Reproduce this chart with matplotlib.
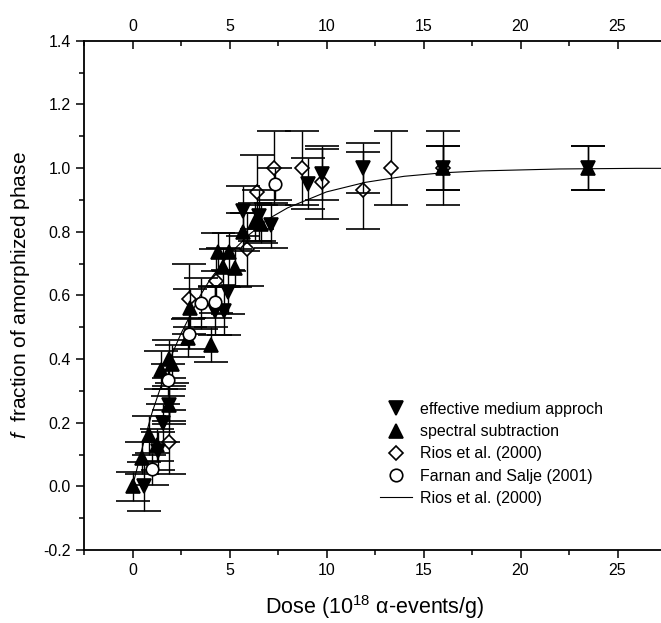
import matplotlib
matplotlib.use("Agg")
import matplotlib.pyplot as plt
from matplotlib.ticker import MultipleLocator, FixedLocator
from matplotlib.lines import Line2D

plt.rcParams['font.family'] = ['Liberation Sans', 'DejaVu Sans']
plt.rcParams['mathtext.fontset'] = 'custom'
plt.rcParams['mathtext.rm'] = 'Liberation Sans'
plt.rcParams['mathtext.it'] = 'Liberation Sans:italic'
plt.rcParams['axes.unicode_minus'] = False

# effective medium approach (filled down triangles)
em_x = [0.6, 1.3, 1.55, 1.9, 4.25, 4.7, 4.9, 5.7, 6.5, 7.15, 9.05, 9.75, 11.9, 16.0, 23.5]
em_y = [0.0, 0.11, 0.2, 0.255, 0.55, 0.55, 0.61, 0.865, 0.85, 0.82, 0.95, 0.98, 1.0, 1.0, 1.0]
em_err = [0.076, 0.06, 0.06, 0.06, 0.075, 0.075, 0.07, 0.077, 0.08, 0.07, 0.08, 0.08, 0.08, 0.07, 0.07]

# spectral subtraction (filled up triangles)
ss_x = [0.0, 0.5, 0.85, 1.25, 1.45, 1.9, 2.05, 1.9, 2.85, 2.95, 4.05, 4.4, 4.65, 4.95, 5.3, 5.7, 6.3, 6.6, 16.0, 23.5]
ss_y = [0.0, 0.09, 0.16, 0.13, 0.365, 0.40, 0.385, 0.255, 0.465, 0.56, 0.445, 0.735, 0.69, 0.735, 0.685, 0.80, 0.83, 0.825, 1.0, 1.0]
ss_err = [0.046, 0.05, 0.06, 0.05, 0.06, 0.06, 0.06, 0.05, 0.06, 0.06, 0.055, 0.06, 0.06, 0.06, 0.06, 0.06, 0.06, 0.06, 0.07, 0.07]

# Rios et al. (2000) (open diamonds)
ri_x = [1.9, 2.9, 4.3, 5.9, 6.4, 7.3, 8.75, 9.75, 11.9, 13.3, 16.0]
ri_y = [0.14, 0.59, 0.645, 0.745, 0.925, 1.0, 1.0, 0.955, 0.93, 1.0, 1.0]
ri_err = [0.1, 0.11, 0.1, 0.115, 0.115, 0.115, 0.115, 0.115, 0.12, 0.115, 0.115]

# Farnan and Salje (2001) (open circles)
fs_x = [1.0, 1.85, 2.9, 3.55, 4.25, 7.35]
fs_y = [0.055, 0.335, 0.48, 0.575, 0.58, 0.95]
fs_err = [0.05, 0.05, 0.05, 0.08, 0.05, 0.05]

# Rios et al. (2000) curve
fit_x = [0, 0.5, 1, 1.5, 2, 2.5, 3, 3.5, 4, 4.5, 5, 6, 7, 8, 9, 10, 12, 14, 16, 18, 20, 22, 24, 26, 27.5]
fit_y = [0, 0.12, 0.23, 0.32, 0.41, 0.48, 0.54, 0.60, 0.65, 0.69, 0.73, 0.79, 0.84, 0.875, 0.90, 0.925,
         0.955, 0.974, 0.985, 0.991, 0.994, 0.997, 0.998, 0.999, 0.999]

xticks = [0, 5, 10, 15, 20, 25]

fig = plt.figure(figsize=(6.61, 6.23), dpi=100)
# right edge of the frame falls just outside the picture, as in the original
ax = fig.add_axes([84 / 661, 73 / 623, 582 / 661, 509.3 / 623])

eb = dict(ecolor='black', elinewidth=1.0, capsize=12, capthick=1.0, linestyle='none',
          markeredgecolor='black', markeredgewidth=1.2)
ax.plot(fit_x, fit_y, color='black', lw=0.8, zorder=2)
h3 = ax.errorbar(ri_x, ri_y, yerr=ri_err, fmt='D', ms=7.3, mfc='white', zorder=3, **eb)
h1 = ax.errorbar(em_x, em_y, yerr=em_err, fmt='v', ms=10, mfc='black', zorder=4, **eb)
h2 = ax.errorbar(ss_x, ss_y, yerr=ss_err, fmt='^', ms=10, mfc='black', zorder=4, **eb)
h4 = ax.errorbar(fs_x, fs_y, yerr=fs_err, fmt='o', ms=9, mfc='white', zorder=5, **eb)

ax.set_xlim(-2.5, 27.5)
ax.set_ylim(-0.2, 1.4)
ax.xaxis.set_major_locator(FixedLocator(xticks))
ax.xaxis.set_minor_locator(MultipleLocator(2.5))
ax.yaxis.set_major_locator(MultipleLocator(0.2))
ax.yaxis.set_minor_locator(MultipleLocator(0.1))
ax.yaxis.set_major_formatter(plt.FuncFormatter(lambda v, p: f"{v:.1f}"))

for s in ['left', 'bottom']:
    ax.spines[s].set_linewidth(1.3)
ax.spines['right'].set_visible(False)
ax.spines['top'].set_visible(False)
ax.tick_params(which='major', direction='out', length=6, width=1.1, labelsize=11.5)
ax.tick_params(which='minor', direction='out', length=3.5, width=1.1)

top = ax.secondary_xaxis('top')
top.spines['top'].set_linewidth(1.3)
top.xaxis.set_major_locator(FixedLocator(xticks))
top.xaxis.set_minor_locator(MultipleLocator(2.5))
top.tick_params(which='major', direction='in', length=6, width=1.1, labelsize=11.5, pad=5)
top.tick_params(which='minor', direction='in', length=3.5, width=1.1)

ax.set_xlabel(r"Dose (10$^{18}$ α-events/g)", fontsize=15.5, labelpad=11)
ax.set_ylabel(r"$f$  fraction of amorphized phase", fontsize=15, labelpad=8)

handles = [h1[0], h2[0], h3[0], h4[0], Line2D([], [], color='black', lw=0.8)]
labels = ["effective medium approch", "spectral subtraction", "Rios et al. (2000)",
          "Farnan and Salje (2001)", "Rios et al. (2000)"]
fig.legend(handles, labels, loc='upper left', bbox_to_anchor=(380 / 661, (623 - 402) / 623),
           frameon=False, fontsize=11.5, borderpad=0, borderaxespad=0, handlelength=2.0,
           handletextpad=0.5, labelspacing=0.45)

fig.savefig("out.png", dpi=100)
